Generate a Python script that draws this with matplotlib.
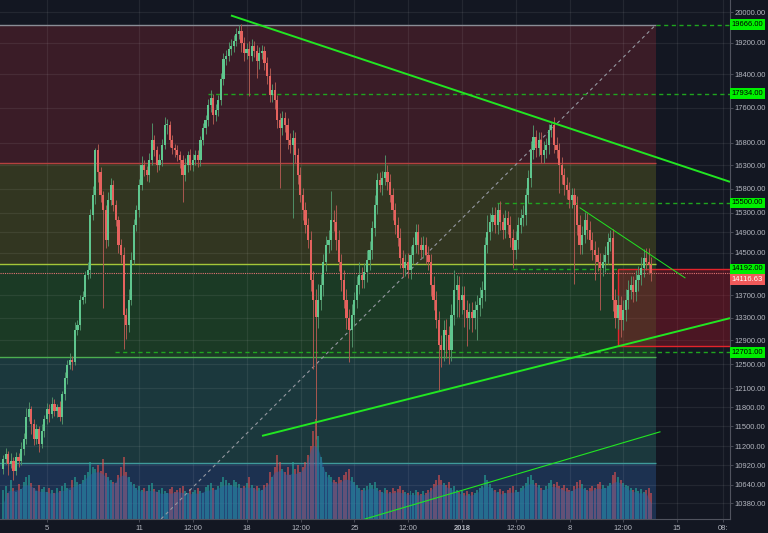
import numpy as np
import matplotlib
matplotlib.use("Agg")
import matplotlib.pyplot as plt
from matplotlib.patches import Rectangle
from matplotlib.transforms import blended_transform_factory

plt.rcParams['font.family'] = ['Liberation Sans', 'DejaVu Sans']

# ---------------- data (4h candles, time in days from 5 Dec 2017) ----------------
first_open = 10870
candle_start_day = -2.85
candle_step_day = 1 / 6

closes = [
    11007, 11080, 10934, 10978, 10832, 11036, 10978, 11154, 11304, 11640,
    11764, 11532, 11304, 11455, 11229, 11425, 11609, 11764, 11686, 11843,
    11733, 11796, 11640, 12002, 12276, 12491, 12574, 12541, 13086, 13174,
    13619, 13673, 14080, 14174, 15250, 15662, 16628, 16149, 15662, 15352,
    14751, 15558, 15872, 15455, 15149, 14653, 14460, 13350, 13174, 13619,
    14364, 15049, 15352, 15872, 16300, 16192, 16085, 16409, 16851, 16628,
    16300, 16409, 16739, 17191, 17191, 16851, 16673, 16628, 16518, 16409,
    16085, 16300, 16518, 16300, 16409, 16518, 16409, 16851, 17122, 17306,
    17655, 17820, 17422, 17538, 17773, 18300, 18795, 18870, 19046, 19123,
    19250, 19430, 19509, 19198, 18946, 19046, 18870, 19123, 18996, 18745,
    18946, 18996, 18696, 18374, 17892, 18011, 17773, 17306, 17122, 17352,
    17191, 16851, 16739, 16896, 16518, 16085, 15662, 15352, 15049, 14751,
    13987, 13619, 13315, 13619, 13894, 14326, 14653, 14751, 15149, 15109,
    14751, 14326, 13987, 13619, 13297, 13086, 13350, 13619, 13894, 14080,
    13987, 14136, 14364, 14556, 14989, 15455, 15978, 15872, 16021, 16149,
    15936, 15662, 15352, 15049, 14790, 14402, 14212, 14326, 14174, 14460,
    14653, 14909, 14653, 14556, 14653, 14460, 14326, 13894, 13619, 13262,
    12828, 12743, 13086, 12999, 12743, 13350, 13802, 13894, 13619, 13710,
    13439, 13297, 13404, 13297, 13439, 13529, 13655, 13802, 14653, 14909,
    15109, 15250, 15049, 15352, 15109, 14949, 15189, 15049, 14790, 14556,
    14751, 15049, 15189, 15250, 15662, 16021, 16628, 16918, 16673, 16851,
    16518, 16628, 16739, 17077, 17191, 16739, 16628, 16300, 16085, 15872,
    15766, 15558, 15662, 15455, 15049, 14653, 14850, 15149, 14949, 14751,
    14556, 14460, 14326, 14212, 14326, 14460, 14712, 14790, 13619, 13297,
    13529, 13262, 13439, 13619, 13802, 13894, 13765, 13987, 14080, 14212,
    14402, 14326, 14269, 14116.63,
]

upper_wick = [
    60, 90, 50, 120, 70, 80, 60, 110, 90, 150,
    120, 60, 80, 90, 50, 110, 70, 100, 80, 120,
    80, 60, 110, 50, 90, 70, 120, 60, 130, 80,
    90, 110, 80, 150, 120, 200, 60, 150, 120, 90,
    100, 180, 150, 120, 100, 90, 110, 150, 120, 200,
    150, 120, 100, 130, 200, 120, 100, 150, 400, 120,
    100, 130, 150, 200, 150, 100, 120, 90, 110, 100,
    120, 150, 100, 130, 140, 120, 110, 100, 130, 120,
    140, 200, 100, 150, 120, 130, 150, 140, 180, 160,
    150, 160, 157, 170, 140, 150, 200, 160, 130, 150,
    150, 130, 120, 140, 180, 150, 200, 130, 160, 170,
    150, 180, 160, 200, 150, 170, 180, 150, 160, 140,
    180, 160, 200, 300, 200, 150, 180, 200, 600, 200,
    350, 200, 150, 180, 200, 150, 200, 150, 160, 250,
    150, 160, 200, 180, 150, 200, 150, 180, 160, 370,
    150, 180, 160, 150, 170, 200, 160, 150, 170, 180,
    150, 170, 160, 150, 180, 160, 170, 150, 160, 170,
    150, 160, 170, 180, 150, 200, 370, 180, 160, 170,
    160, 170, 150, 180, 160, 170, 200, 160, 150, 340,
    180, 160, 170, 150, 180, 170, 160, 150, 180, 170,
    170, 160, 180, 200, 150, 180, 200, 270, 160, 180,
    180, 200, 170, 150, 60, 200, 180, 170, 190, 160,
    170, 180, 160, 150, 180, 200, 170, 160, 150, 180,
    160, 170, 150, 180, 160, 170, 180, 160, 170, 200,
    180, 160, 170, 200, 180, 170, 160, 180, 170, 200,
    180, 200, 270, 150,
]

lower_wick = [
    80, 70, 150, 60, 120, 50, 90, 60, 80, 70,
    60, 140, 90, 70, 110, 60, 80, 70, 120, 60,
    70, 90, 60, 100, 80, 110, 70, 140, 60, 90,
    100, 80, 120, 70, 150, 90, 180, 200, 150, 1880,
    150, 120, 100, 130, 110, 150, 150, 600, 250, 120,
    100, 80, 120, 150, 100, 130, 120, 150, 100, 130,
    150, 100, 120, 90, 200, 150, 130, 140, 120, 160,
    570, 120, 150, 110, 130, 100, 140, 120, 110, 130,
    130, 150, 200, 120, 140, 110, 150, 160, 130, 170,
    160, 140, 150, 250, 200, 160, 1000, 140, 150, 420,
    200, 150, 180, 200, 160, 150, 200, 180, 1300, 150,
    160, 200, 180, 1540, 170, 180, 150, 200, 160, 150,
    200, 1200, 2000, 200, 180, 200, 170, 150, 200, 180,
    200, 180, 200, 150, 200, 560, 300, 200, 150, 160,
    160, 150, 180, 200, 170, 150, 180, 150, 200, 150,
    160, 150, 200, 170, 150, 200, 180, 160, 150, 170,
    180, 150, 170, 160, 150, 170, 160, 200, 180, 150,
    750, 300, 200, 400, 250, 200, 180, 500, 300, 250,
    300, 490, 200, 250, 200, 530, 200, 180, 200, 160,
    150, 170, 160, 180, 150, 170, 160, 180, 170, 340,
    180, 170, 150, 160, 200, 170, 180, 190, 200, 170,
    170, 160, 180, 200, 160, 180, 170, 600, 180, 200,
    180, 170, 160, 1550, 200, 180, 170, 160, 180, 200,
    200, 470, 180, 770, 160, 200, 180, 170, 200, 180,
    200, 310, 180, 200, 170, 160, 180, 170, 200, 180,
    170, 160, 180, 150,
]

volume = [
    28, 32, 25, 38, 30, 26, 34, 29, 36, 40,
    42, 35, 30, 27, 33, 29, 31, 26, 30, 28,
    25, 30, 27, 32, 35, 30, 28, 38, 40, 36,
    34, 38, 42, 45, 55, 50, 48, 52, 46, 58,
    44, 40, 38, 36, 35, 42, 50, 60, 45, 40,
    36, 34, 30, 32, 28, 30, 27, 33, 35, 29,
    26, 28, 30, 27, 25, 29, 31, 26, 28, 30,
    32, 27, 25, 29, 26, 28, 30, 27, 25, 31,
    33, 35, 30, 28, 32, 36, 40, 38, 35, 33,
    38, 36, 34, 30, 32, 35, 40, 33, 30, 32,
    30, 28, 33, 35, 45, 40, 50, 62, 55, 48,
    45, 50, 42, 55, 48, 52, 45, 50, 55, 62,
    70, 85, 96, 80, 60, 50, 45, 42, 40, 38,
    36, 40, 38, 42, 45, 48, 40, 36, 33, 30,
    28, 30, 32, 35, 33, 36, 30, 28, 26, 30,
    28, 26, 30, 27, 29, 32, 28, 26, 25, 27,
    25, 28, 26, 24, 27, 25, 28, 30, 34, 38,
    42, 38, 35, 33, 36, 30, 32, 28, 26, 27,
    25, 27, 24, 26, 25, 28, 30, 32, 42, 38,
    34, 30, 28, 26, 29, 27, 25, 28, 30, 32,
    28, 26, 30, 32, 35, 40, 42, 38, 35, 33,
    30, 28, 32, 35, 38, 34, 36, 32, 30, 33,
    30, 28, 27, 32, 36, 38, 34, 30, 28, 30,
    32, 30, 34, 36, 33, 30, 32, 35, 42, 45,
    40, 38, 35, 33, 32, 30, 28, 30, 27, 29,
    26, 28, 30, 25,
]

y_ticks = [20000, 19200, 18400, 17600, 16800, 16300, 15800, 15300, 14900, 14500,
           13700, 13300, 12900, 12500, 12100, 11800, 11500, 11200, 10920, 10640, 10380]
x_tick_days = [0, 6, 9.5, 13, 16.5, 20, 23.5, 27, 30.5, 34, 37.5, 41, 44]
x_tick_labels = ['5', '11', '12:00', '18', '12:00', '25', '12:00', '2018',
                 '12:00', '8', '12:00', '15', '08:']

# Fibonacci retracement drawing
fib_high = 19666
fib_low = 5566
fib_levels = [0, 0.236, 0.382, 0.5, 0.618, 0.786]
fib_days = [-3.3, 39.65]

# trend lines: (days, prices)
trend_top = ([11.97, 44.44], [19908, 15942])
trend_bottom = ([13.99, 44.44], [11357, 13290])
trend_short = ([34.68, 41.51], [15398, 14025])
channel_low = ([20.69, 39.88], [10164, 11418])
fib_diagonal = ([7.42, 39.62], [10164, 19666])

# horizontal dashed levels: price -> start day
dashed_levels = {19666: 39.62, 17934: 10.47, 15500: 29.28, 12701: 4.43}
short_level = (14192, 30.32, 37.09)
box_days = (37.15, 44.6)
box_prices = (12800, 14192)
last_price = 14116.63
label_levels = [19666, 17934, 15500, 14192, 12701]

# ---------------- styling ----------------
BG = '#131722'
TXT = '#b2b5be'
fib_fill = ['#3a1c27', '#323621', '#1b3a25', '#1b383d', '#1c3150']
fib_line = ['#8a8d96', '#b5413f', '#a4c639', '#4caf50', '#3f9a9a', '#2962ff']
up_body, dn_body = '#5fc68e', '#e5625e'
up_wick, dn_wick = '#4f8f67', '#a9574f'
LIME = '#22e622'
DASH_G = '#1fa51f'
FS = 5.5

W, H = 768, 533
fig = plt.figure(figsize=(W / 100, H / 100), dpi=100, facecolor=BG)
rect = [0, 14 / H, 730 / W, 519 / H]
xlim = (-47 / 15.37, (730 - 47) / 15.37)
ylim = (10164, 20323)

ax_bg = fig.add_axes(rect)
ax_vol = fig.add_axes(rect)
ax = fig.add_axes(rect)
for a in (ax_bg, ax):
    a.set_yscale('log')
    a.set_ylim(*ylim)
for a in (ax_bg, ax_vol, ax):
    a.set_xlim(*xlim)
ax_bg.set_facecolor(BG)
ax_bg.axis('off')
ax_vol.axis('off')
ax_vol.patch.set_alpha(0)
ax.patch.set_alpha(0)

# fib zones
fib_prices = [fib_high - l * (fib_high - fib_low) for l in fib_levels]
for k in range(len(fib_levels) - 1):
    ax_bg.fill_between(fib_days, fib_prices[k + 1], fib_prices[k], color=fib_fill[k], lw=0, zorder=1)
for k, p in enumerate(fib_prices):
    ax_bg.hlines(p, fib_days[0], fib_days[1], color=fib_line[k], lw=1.0, zorder=3)

# grid
for yt in y_ticks:
    ax_bg.axhline(yt, color='#ffffff', alpha=0.07, lw=0.9, zorder=2)
for xt in x_tick_days:
    ax_bg.axvline(xt, color='#ffffff', alpha=0.07, lw=0.9, zorder=2)

# volume
c = np.array(closes, dtype=float)
n = min(len(closes), len(upper_wick), len(lower_wick), len(volume))
c = c[:n]
uw = np.array(upper_wick[:n], float)
lw_ = np.array(lower_wick[:n], float)
vol = np.array(volume[:n], float)
t = candle_start_day + np.arange(n) * candle_step_day
o = np.r_[first_open, c[:-1]]
up = c >= o
vol_smooth = np.convolve(vol, np.ones(5) / 5, mode='same')
ax_vol.set_ylim(0, 500)
ax_vol.bar(t[up], vol[up], width=0.13, color='#26a69a', alpha=0.6, lw=0, zorder=1)
ax_vol.bar(t[~up], vol[~up], width=0.13, color='#ef5350', alpha=0.55, lw=0, zorder=1)
ax_vol.fill_between(t, 0, vol_smooth * 0.9, color='#2c63a8', alpha=0.45, lw=0, zorder=2)

# drawings
ax.plot(*fib_diagonal, color='#9598a1', lw=0.8, ls=(0, (3, 3)), zorder=2)
for p, d0 in dashed_levels.items():
    ax.hlines(p, d0, xlim[1], color=DASH_G, lw=1.0, ls=(0, (3, 2.5)), zorder=3)
ax.hlines(short_level[0], short_level[1], short_level[2], color=DASH_G, lw=1.0, ls=(0, (3, 2.5)), zorder=3)
ax.add_patch(Rectangle((box_days[0], box_prices[0]), box_days[1] - box_days[0],
                       box_prices[1] - box_prices[0], facecolor=(0.75, 0.08, 0.15, 0.33),
                       edgecolor='#e3242b', lw=1.0, zorder=2))
ax.axhline(last_price, color='#e57373', lw=0.8, ls=(0, (1, 1)), zorder=3)

# candles
hi = np.maximum(o, c) + uw
lo = np.minimum(o, c) - lw_
ax.vlines(t[up], lo[up], hi[up], color=up_wick, lw=0.7, zorder=4)
ax.vlines(t[~up], lo[~up], hi[~up], color=dn_wick, lw=0.7, zorder=4)
body_h = np.maximum(np.abs(c - o), 0.0015 * c)
ax.bar(t[up], body_h[up], bottom=np.minimum(o, c)[up], width=0.14, color=up_body, lw=0, zorder=5)
ax.bar(t[~up], body_h[~up], bottom=np.minimum(o, c)[~up], width=0.14, color=dn_body, lw=0, zorder=5)

# trend lines
ax.plot(*trend_top, color=LIME, lw=1.4, zorder=6, solid_capstyle='butt')
ax.plot(*trend_bottom, color=LIME, lw=1.4, zorder=6, solid_capstyle='butt')
ax.plot(*trend_short, color=LIME, lw=0.7, zorder=6)
ax.plot(*channel_low, color=LIME, lw=0.8, zorder=6)

# axes
for s in ('left', 'top'):
    ax.spines[s].set_visible(False)
for s in ('right', 'bottom'):
    ax.spines[s].set_color('#50535e')
    ax.spines[s].set_linewidth(0.8)
ax.yaxis.tick_right()
ax.set_yticks(y_ticks)
ax.set_yticklabels([f'{v:.2f}' for v in y_ticks])
ax.yaxis.set_minor_locator(matplotlib.ticker.NullLocator())
ax.tick_params(axis='y', length=2, width=0.6, pad=1.5, labelsize=FS, colors='#50535e', labelcolor=TXT)
ax.set_xticks(x_tick_days)
ax.set_xticklabels(x_tick_labels)
ax.tick_params(axis='x', length=2, width=0.6, pad=2, labelsize=FS, colors='#50535e', labelcolor=TXT)
for lab in ax.get_xticklabels():
    if lab.get_text() == '2018':
        lab.set_fontweight('bold')

tr = blended_transform_factory(ax.transAxes, ax.transData)
for p in label_levels:
    ax.text(1.002, p, f'{p:.2f}', transform=tr, ha='left', va='center', fontsize=FS,
            color='black', clip_on=False, zorder=10,
            bbox=dict(boxstyle='square,pad=0.25', fc='#00f000', ec='none'))
ax.annotate(f'{last_price:.2f}', xy=(1.002, last_price), xycoords=tr, xytext=(0, -5),
            textcoords='offset points', ha='left', va='center', fontsize=FS, color='white',
            annotation_clip=False, zorder=10,
            bbox=dict(boxstyle='square,pad=0.25', fc='#f05a5a', ec='none'))

fig.savefig('out.png', dpi=100, facecolor=BG)
